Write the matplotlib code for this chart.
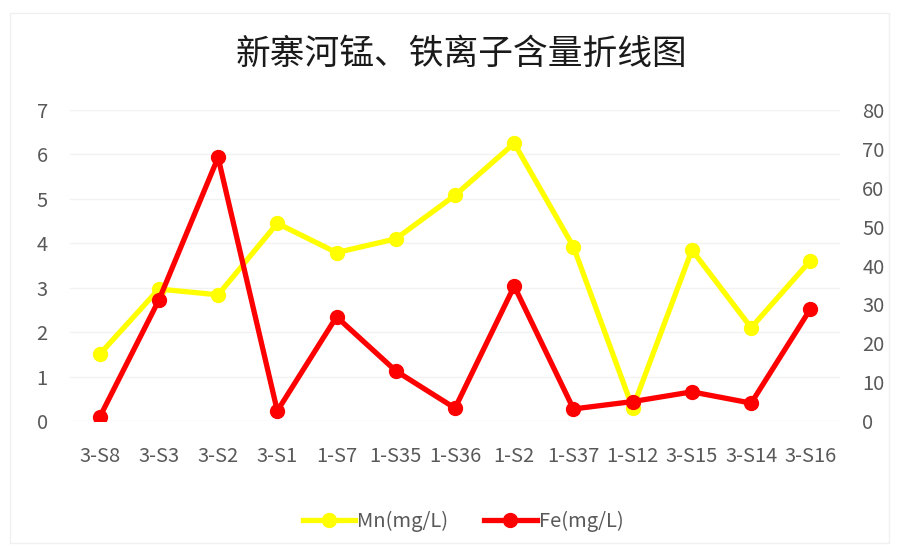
import matplotlib
matplotlib.use("Agg")
import matplotlib.pyplot as plt
from matplotlib.patches import Rectangle
from matplotlib.lines import Line2D

plt.rcParams['font.family'] = ['Noto Sans CJK SC', 'DejaVu Sans']

categories = ["3-S8", "3-S3", "3-S2", "3-S1", "1-S7", "1-S35", "1-S36",
              "1-S2", "1-S37", "1-S12", "3-S15", "3-S14", "3-S16"]
mn_values = [1.50, 2.97, 2.84, 4.45, 3.79, 4.10, 5.08, 6.25, 3.92, 0.29, 3.85, 2.10, 3.61]
fe_values = [0.95, 31.1, 67.8, 2.6, 26.8, 12.9, 3.3, 34.7, 3.1, 5.0, 7.5, 4.6, 28.8]
left_ticks = [0, 1, 2, 3, 4, 5, 6, 7]
right_ticks = [0, 10, 20, 30, 40, 50, 60, 70, 80]

W, H = 899, 546
fig = plt.figure(figsize=(W / 100, H / 100), dpi=100)
fig.patches.append(Rectangle((10 / W, 3 / H), 1 - 20 / W, 1 - 16 / H, transform=fig.transFigure,
                             fill=False, edgecolor='#f0f0f0', linewidth=1))

ax = fig.add_axes([70 / W, 1 - 421 / H, 770 / W, 311 / H])
ax2 = ax.twinx()

x = list(range(len(categories)))
tick_color = '#595959'
fs = 14.5

ax.set_ylim(0, 7)
ax.set_yticks(left_ticks)
ax.set_xlim(-0.5, len(categories) - 0.5)
ax.set_xticks(x)
ax.set_xticklabels(categories)
ax.grid(axis='y', color='#f2f2f2', linewidth=1)
ax.set_axisbelow(True)
for s in ax.spines.values():
    s.set_visible(False)
for s in ax2.spines.values():
    s.set_visible(False)
ax.tick_params(axis='both', length=0, labelsize=fs, colors=tick_color)
ax.tick_params(axis='y', pad=16)
ax.tick_params(axis='x', pad=18)

ax2.set_ylim(0, 80)
ax2.set_yticks(right_ticks)
ax2.tick_params(axis='y', length=0, labelsize=fs, colors=tick_color, pad=16)

lw = 3.8
ms = 10
ax.plot(x, mn_values, color='#ffff00', linewidth=lw, marker='o', markersize=ms, zorder=3)
ax2.plot(x, fe_values, color='#ff0000', linewidth=lw, marker='o', markersize=ms, zorder=4)

fig.text(461 / W, 1 - 54 / H, "新寨河锰、铁离子含量折线图", ha='center', va='center',
         fontsize=25, color='#1a1a1a')

handles = [Line2D([0], [0], color='#ffff00', linewidth=lw, marker='o', markersize=ms),
           Line2D([0], [0], color='#ff0000', linewidth=lw, marker='o', markersize=ms)]
fig.legend(handles, ["Mn(mg/L)", "Fe(mg/L)"], loc='center', bbox_to_anchor=(463 / W, 1 - 521 / H),
           ncol=2, frameon=False, fontsize=fs, labelcolor=tick_color, handlelength=2.6,
           columnspacing=1.8, handletextpad=0.1)

fig.savefig("out.png", dpi=100)
